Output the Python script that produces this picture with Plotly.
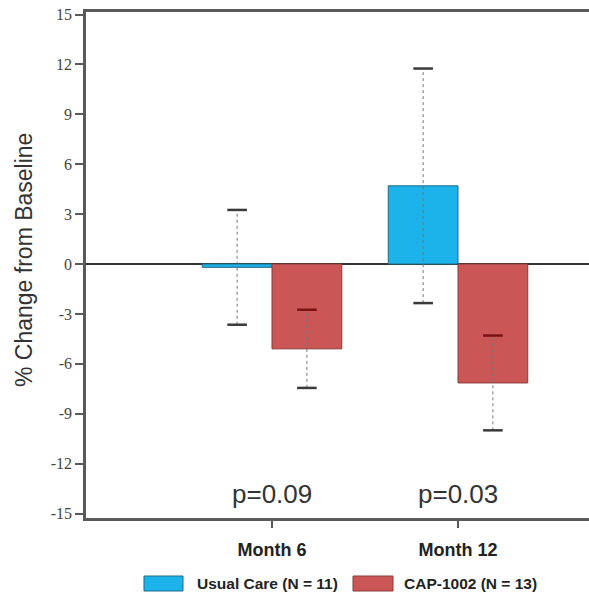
import plotly.graph_objects as go

# ---- data ----
categories = ["Month 6", "Month 12"]
cat_pos = [1, 2]
usual_care = [-0.2, 4.7]
usual_care_err = [3.45, 7.05]
cap1002 = [-5.1, -7.15]
cap1002_err = [2.35, 2.85]
p_values = ["p=0.09", "p=0.03"]
series_names = ["Usual Care (N = 11)", "CAP-1002 (N = 13)"]
ytick_vals = [15, 12, 9, 6, 3, 0, -3, -6, -9, -12, -15]
ytick_text = ["15", "12", "9", "6", "3", "0", "-3", "-6", "-9", "-12", "-15"]

# ---- style ----
W, H = 589, 597
FIG_W = 600  # plot area runs past the window's right edge, as in the reference
L, R, T, B = 86, 0, 12, 79
bar_w = 0.375
px_per_cat = 186.0
blue_fill, blue_line = "#1bb3ea", "#1f6a8a"
red_fill, red_line = "#cb5656", "#8c3a3a"

fig = go.Figure()

def add_series(vals, errs, offset, fill, line, upper_cap_color):
    xs = [p + offset for p in cat_pos]
    fig.add_trace(go.Bar(x=xs, y=vals, width=[bar_w] * len(xs),
                         marker=dict(color=fill, line=dict(color=line, width=1)),
                         showlegend=False, hoverinfo="skip"))
    ex, ey = [], []
    for x, v, e in zip(xs, vals, errs):
        ex += [x, x, None]
        ey += [v - e, v + e, None]
    fig.add_trace(go.Scatter(x=ex, y=ey, mode="lines",
                             line=dict(color="#777777", width=1, dash="dot"),
                             showlegend=False, hoverinfo="skip"))
    cx, cy, cc = [], [], []
    for x, v, e in zip(xs, vals, errs):
        cx += [x, x]
        cy += [v - e, v + e]
        cc += ["#3a3a3a", upper_cap_color]
    fig.add_trace(go.Scatter(x=cx, y=cy, mode="markers",
                             marker=dict(symbol="line-ew", size=14,
                                         line=dict(color=cc, width=2.5)),
                             showlegend=False, hoverinfo="skip"))

add_series(usual_care, usual_care_err, -bar_w / 2, blue_fill, blue_line, "#3a3a3a")
add_series(cap1002, cap1002_err, bar_w / 2, red_fill, red_line, "#7a1414")

# p-value annotations
for p, txt in zip(cat_pos, p_values):
    fig.add_annotation(x=p, y=-13.8, text=txt, showarrow=False, xanchor="center",
                       yanchor="middle",
                       font=dict(family="Liberation Sans, Arial", size=26, color="#333333"))

pw, ph = FIG_W - L - R, H - T - B
def px2x(px):
    return (px - L) / pw
def py2y(py):
    return (H - B - py) / ph

# y title
fig.add_annotation(xref="paper", yref="paper", x=px2x(24), y=py2y(260),
                   text="% Change from Baseline", textangle=-90, showarrow=False,
                   xanchor="center", yanchor="middle",
                   font=dict(family="Liberation Sans, Arial", size=23, color="#333333"))

# custom legend
legend_items = [(144, 183, 195, blue_fill, blue_line), (353, 393, 402, red_fill, red_line)]
for name, (x0, x1, tx, f, ln) in zip(series_names, legend_items):
    fig.add_shape(type="rect", xref="paper", yref="paper",
                  x0=px2x(x0), x1=px2x(x1), y0=py2y(591), y1=py2y(576),
                  fillcolor=f, line=dict(color=ln, width=1))
    fig.add_annotation(xref="paper", yref="paper", x=px2x(tx), y=py2y(583.5),
                       text="<b>" + name + "</b>", showarrow=False,
                       xanchor="left", yanchor="middle",
                       font=dict(family="Liberation Sans, Arial", size=15.5, color="#222222"))

fig.update_layout(
    width=FIG_W, height=H,
    margin=dict(l=L, r=R, t=T, b=B, pad=0),
    paper_bgcolor="white", plot_bgcolor="white",
    barmode="overlay",
    xaxis=dict(range=[0, pw / px_per_cat], tickvals=cat_pos, ticktext=categories,
               showline=True, linecolor="#5a5a5a", linewidth=2.5, mirror=True,
               ticks="outside", ticklen=7, tickwidth=2, tickcolor="#5a5a5a",
               showgrid=False, zeroline=False, ticklabelstandoff=7,
               tickfont=dict(family="Liberation Sans, Arial", size=18, color="#222222", weight="bold")),
    yaxis=dict(range=[-15.27, 15.15], tickvals=ytick_vals, ticktext=ytick_text,
               showline=True, linecolor="#5a5a5a", linewidth=2.5,
               ticks="outside", ticklen=8, tickwidth=2, tickcolor="#5a5a5a",
               showgrid=False, zeroline=True, zerolinecolor="#333333", zerolinewidth=1.5,
               tickfont=dict(family="Liberation Serif, Times New Roman", size=16, color="#444444")),
)

fig.write_html("out.html", config={"responsive": False, "displayModeBar": False},
               post_script="document.body.style.margin='0';document.body.style.overflow='hidden';")
